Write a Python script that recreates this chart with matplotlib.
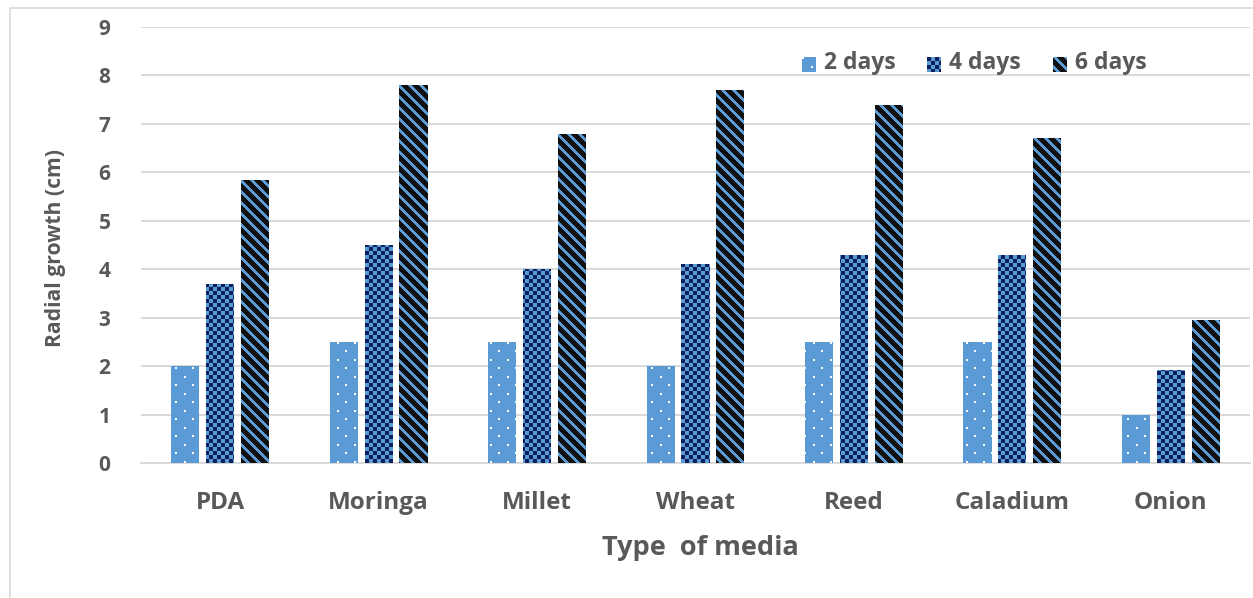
import matplotlib

matplotlib.use("Agg")
import matplotlib.pyplot as plt
import numpy as np
from matplotlib.patches import PathPatch, Rectangle
from matplotlib.path import Path

media = ["PDA", "Moringa", "Millet", "Wheat", "Reed", "Caladium", "Onion"]
series = ["2 days", "4 days", "6 days"]
day2 = [2.0, 2.5, 2.5, 2.0, 2.5, 2.5, 1.0]
day4 = [3.7, 4.5, 4.0, 4.1, 4.3, 4.3, 1.93]
day6 = [5.85, 7.8, 6.8, 7.7, 7.4, 6.7, 2.95]
yticks = list(range(0, 10))

TXT = "#595959"
GRID = "#D9D9D9"
BLUE = np.array([0x5B, 0x9B, 0xD5]) / 255
NAVY = np.array([0x0A, 0x1F, 0x5C]) / 255
BLACK = np.array([0x10, 0x10, 0x10]) / 255
WHITE = np.array([1.0, 1.0, 1.0])

W_PX, H_PX, DPI = 1253, 598, 100
AX_L, AX_R, AX_T, AX_B = 141, 1250, 27, 463


def texture(kind, h, w):
    r, c = np.mgrid[0:h, 0:w]
    img = np.empty((h, w, 3))
    if kind == "dots":
        img[:] = BLUE
        m = ((r % 17 < 2) & (c % 17 < 2)) | (((r + 8) % 17 < 2) & ((c + 8) % 17 < 2))
        img[m] = WHITE
    elif kind == "checker":
        m = ((r // 4) + (c // 4)) % 2 == 0
        img[:] = BLUE
        img[m] = NAVY
    else:
        img[:] = BLACK
        m = (c - r) % 11 < 4
        img[m] = BLUE
    return img


fig = plt.figure(figsize=(W_PX / DPI, H_PX / DPI), dpi=DPI)
ax = fig.add_axes([AX_L / W_PX, 1 - AX_B / H_PX, (AX_R - AX_L) / W_PX, (AX_B - AX_T) / H_PX])

x = np.arange(len(media))
width = 0.177
offsets = [-0.22, 0.0, 0.22]
kinds = ["dots", "checker", "stripes"]
ax.set_xlim(-0.5, len(media) - 0.5)
ax.set_ylim(0, 9)

ax_w, ax_h = AX_R - AX_L, AX_B - AX_T
for vals, off, kind in zip([day2, day4, day6], offsets, kinds):
    bars = ax.bar(x + off, vals, width, color="none", edgecolor="none", zorder=2)
    verts, codes = [], []
    for b in bars:
        x0, y0 = b.get_x(), b.get_y()
        x1, y1 = x0 + b.get_width(), y0 + b.get_height()
        verts += [(x0, y0), (x1, y0), (x1, y1), (x0, y1), (x0, y0)]
        codes += [Path.MOVETO, Path.LINETO, Path.LINETO, Path.LINETO, Path.CLOSEPOLY]
    clip = PathPatch(Path(verts, codes), transform=ax.transData, facecolor="none", edgecolor="none")
    ax.add_patch(clip)
    im = ax.imshow(texture(kind, ax_h, ax_w), extent=(-0.5, len(media) - 0.5, 0, 9),
                   origin="upper", aspect="auto", interpolation="nearest", zorder=3)
    im.set_clip_path(clip)

ax.set_yticks(yticks)
ax.yaxis.grid(True, color=GRID, lw=1.4, zorder=0)
ax.set_axisbelow(True)
for s in ["top", "right", "left"]:
    ax.spines[s].set_visible(False)
ax.spines["bottom"].set_color(GRID)
ax.spines["bottom"].set_linewidth(1.4)
ax.tick_params(length=0)
ax.set_xticks(x)
ax.set_xticklabels(media)
font = "Open Sans"
for lab in ax.get_yticklabels():
    lab.set_fontsize(15)
for lab in ax.get_xticklabels():
    lab.set_fontsize(17.5)
for lab in ax.get_xticklabels() + ax.get_yticklabels():
    lab.set_fontfamily(font)
    lab.set_fontweight("bold")
    lab.set_color(TXT)
ax.tick_params(axis="x", pad=20)
ax.tick_params(axis="y", pad=22)

fig.text(700 / W_PX, 1 - 548 / H_PX, "Type  of media", ha="center", va="center",
         fontsize=19.5, fontweight="bold", color=TXT, family=font)
fig.text(55 / W_PX, 1 - 248 / H_PX, "Radial growth (cm)", ha="center", va="center",
         rotation=90, fontsize=15.2, fontweight="bold", color=TXT, family=font)

# legend: small pattern swatches followed by labels
for lab, kind, sx in zip(series, kinds, [802, 927, 1053]):
    sw = fig.add_axes([sx / W_PX, 1 - 72 / H_PX, 14 / W_PX, 15 / H_PX])
    sw.imshow(texture(kind, 15, 14), interpolation="nearest", aspect="auto")
    sw.set_axis_off()
    fig.text((sx + 22) / W_PX, 1 - 63 / H_PX, lab, ha="left", va="center",
             fontsize=16.5, fontweight="bold", color=TXT, family=font)

fig.patches.append(Rectangle((10 / W_PX, -0.1), 1.2, 1 - 8 / H_PX + 0.1, transform=fig.transFigure,
                             facecolor="none", edgecolor=GRID, lw=1.2))

fig.savefig("out.png", dpi=DPI)
